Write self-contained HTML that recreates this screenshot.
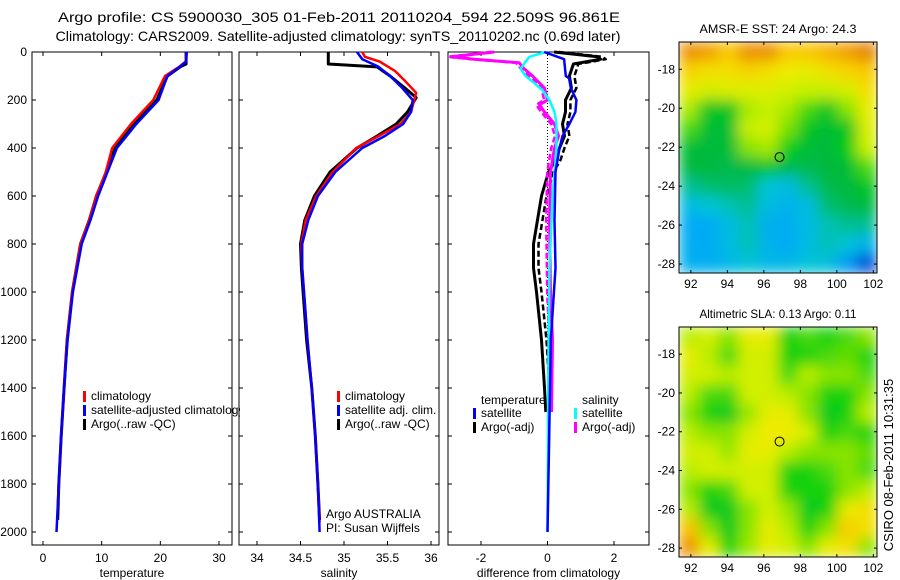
<!DOCTYPE html>
<html><head><meta charset="utf-8"><style>
body{margin:0;background:#fff}
svg{display:block;font-family:"Liberation Sans",sans-serif;font-size:12px}
</style></head><body>
<svg id="fig" width="900" height="580" viewBox="0 0 900 580">
<defs>
<filter id="sm" x="0" y="0" width="1" height="1"><feGaussianBlur stdDeviation="7" edgeMode="duplicate"/></filter>
<clipPath id="c1"><rect x="679" y="42" width="198" height="231"/></clipPath>
<clipPath id="c2"><rect x="679" y="327" width="198" height="230"/></clipPath>
</defs>
<text x="339" y="22" text-anchor="middle" font-size="14" textLength="562" lengthAdjust="spacingAndGlyphs">Argo profile: CS 5900030_305 01-Feb-2011 20110204_594 22.509S 96.861E</text>
<text x="338" y="41" text-anchor="middle" font-size="14" textLength="565" lengthAdjust="spacingAndGlyphs">Climatology: CARS2009. Satellite-adjusted climatology: synTS_20110202.nc (0.69d later)</text>
<g id="plots"></g>
<text transform="translate(893,465) rotate(-90)" text-anchor="middle" font-size="13">CSIRO 08-Feb-2011 10:31:35</text>
</svg>
<script>
// ---- profile data ----
const depthTicks=[0,200,400,600,800,1000,1200,1400,1600,1800,2000];
const tempTicks=[0,10,20,30];
const salTicks=[34,34.5,35,35.5,36];
const diffTicks=[-2,0,2];
const tempArgoD=[0,50,60,100,200,300,400,500,600,700,800,1000,1200,1400,1600,1800,1950];
const tempArgoV=[24.4,24.4,23.5,21.2,19.4,15.6,12.3,10.8,9.1,7.9,6.4,5.0,4.1,3.6,3.1,2.7,2.5];
const tempClimD=[0,40,60,100,200,300,400,500,600,700,800,1000,1200,1400,1600,1800,1870];
const tempClimV=[24.5,24.3,23.3,20.8,18.8,15.0,11.8,10.7,9.1,7.9,6.4,5.0,4.1,3.6,3.1,2.7,2.6];
const tempSatD=[0,40,60,100,200,300,400,500,600,700,800,1000,1200,1400,1600,1800,2000];
const tempSatV=[24.5,24.4,23.4,21.2,19.7,15.9,12.6,11.0,9.4,8.1,6.6,5.1,4.2,3.6,3.1,2.7,2.3];
const salArgoD=[0,50,62,100,150,190,250,300,350,400,500,600,700,800,900,1000,1200,1400,1600,1800,1950];
const salArgoV=[34.82,34.82,35.38,35.53,35.7,35.83,35.73,35.6,35.38,35.15,34.84,34.66,34.55,34.5,34.51,34.53,34.57,34.63,34.67,34.7,34.72];
const salClimD=[0,20,40,80,120,170,250,300,350,400,500,600,700,800,900,1000,1200,1400,1600,1800,1960];
const salClimV=[35.21,35.24,35.41,35.59,35.7,35.83,35.77,35.65,35.4,35.14,34.87,34.68,34.56,34.51,34.52,34.54,34.58,34.63,34.67,34.7,34.72];
const salSatD=[0,30,60,100,150,200,250,300,350,400,500,600,700,800,900,1000,1200,1400,1600,1800,2000];
const salSatV=[35.15,35.21,35.39,35.53,35.67,35.79,35.77,35.68,35.47,35.21,34.9,34.7,34.59,34.52,34.52,34.54,34.58,34.63,34.67,34.7,34.72];
// ---- difference data ----
const dTSatD=[0,30,100,110,150,200,250,300,350,400,500,700,900,1200,1600,2000];
const dTSatV=[-0.1,0.5,0.55,0.65,0.7,0.87,0.84,0.66,0.45,0.36,0.24,0.21,0.24,0.1,0.05,0.0];
const dTArgoD=[0,20,30,50,100,150,200,250,300,350,400,450,500,600,700,800,900,1000,1200,1400,1500];
const dTArgoV=[0.2,1.5,1.6,0.78,0.66,0.72,0.54,0.54,0.45,0.51,0.36,0.24,0.03,-0.18,-0.3,-0.42,-0.42,-0.33,-0.18,-0.09,-0.05];
const dSSatD=[0,20,40,70,100,130,160,200,250,300,400,500,600,700,900,1200,2000];
const dSSatV=[-0.06,-0.54,-0.66,-0.81,-0.66,-0.39,-0.15,0.06,0.21,0.27,0.27,0.21,0.15,0.12,0.06,0.03,0.0];
const dSArgoD=[0,20,30,45,70,100,150,200,220,250,300,350,400,500,700,1000,1200,1500];
const dSArgoV=[-1.6,-2.9,-2.2,-0.85,-0.7,-0.45,-0.09,0.0,-0.24,-0.09,0.21,0.33,0.21,0.09,0.06,0.09,0.15,0.12];
// ---- map data ----
const lonTicks=[92,94,96,98,100,102];
const latTicks=[-18,-20,-22,-24,-26,-28];
const sstGrid=[
[.8,.78,.72,.8,.8,.72,.72,.75,.78,.82],
[.7,.68,.68,.7,.68,.66,.65,.68,.7,.72],
[.65,.63,.64,.64,.64,.63,.62,.62,.63,.68],
[.6,.5,.5,.6,.62,.6,.55,.5,.58,.65],
[.55,.48,.48,.62,.63,.57,.5,.48,.5,.64],
[.48,.47,.48,.58,.6,.52,.48,.47,.52,.62],
[.47,.47,.46,.47,.5,.46,.46,.47,.48,.55],
[.42,.44,.45,.44,.38,.36,.42,.46,.47,.5],
[.36,.38,.4,.42,.36,.34,.36,.44,.46,.47],
[.32,.32,.36,.4,.33,.33,.36,.4,.42,.42],
[.33,.32,.36,.4,.34,.32,.36,.4,.38,.34],
[.33,.33,.35,.38,.35,.35,.38,.37,.3,.2]];
const slaGrid=[
[.61,.63,.58,.65,.65,.53,.55,.53,.55,.58],
[.65,.61,.55,.63,.63,.53,.53,.55,.56,.53],
[.63,.63,.61,.63,.63,.55,.61,.58,.58,.55],
[.61,.55,.55,.63,.63,.61,.58,.53,.53,.58],
[.58,.53,.51,.59,.65,.65,.58,.51,.53,.61],
[.61,.58,.58,.63,.66,.66,.63,.53,.55,.53],
[.63,.63,.59,.65,.65,.61,.58,.58,.58,.56],
[.61,.63,.63,.63,.63,.53,.53,.55,.58,.55],
[.58,.53,.55,.63,.63,.53,.53,.53,.58,.61],
[.61,.51,.51,.58,.63,.59,.51,.53,.65,.68],
[.73,.58,.51,.58,.65,.61,.53,.58,.71,.68],
[.8,.65,.53,.59,.65,.63,.58,.65,.68,.58]];
const argoLon=96.861, argoLat=-22.509;

const NS='http://www.w3.org/2000/svg';
const root=document.getElementById('plots');
function mk(tag,attrs,parent,text){const e=document.createElementNS(NS,tag);for(const k in attrs)e.setAttribute(k,attrs[k]);if(text!==undefined)e.textContent=text;(parent||root).appendChild(e);return e;}
const PT=52,PB=545; const depthY=d=>52+d*0.24;
function lin(d0,d1,p0,p1){return v=>p0+(v-d0)*(p1-p0)/(d1-d0);}
const tX=lin(0,30,43,219), sX=lin(34,36,257,431), dX=lin(-2,2,481,614);

function frame(x0,x1,xTicks,sx,xlabel,name,yLabels){
  const g=mk('g',{});
  
  
  const r=mk('rect',{x:x0,y:PT,width:x1-x0,height:PB-PT,fill:'none',stroke:'#000','stroke-width':1},g);
  
  
  xTicks.forEach(v=>{const x=sx(v);
    mk('line',{x1:x,x2:x,y1:PB,y2:PB-4,stroke:'#000'},g);mk('line',{x1:x,x2:x,y1:PT,y2:PT+4,stroke:'#000'},g);
    const t=mk('text',{x:x,y:PB+17,'text-anchor':'middle'},g,String(v));
    
    });
  depthTicks.forEach(d=>{const y=depthY(d);
    mk('line',{x1:x0,x2:x0+4,y1:y,y2:y,stroke:'#000'},g);mk('line',{x1:x1,x2:x1-4,y1:y,y2:y,stroke:'#000'},g);
    if(yLabels){const t=mk('text',{x:x0-5,y:y+4,'text-anchor':'end'},g,String(d));
      
      }});
  const xl=mk('text',{x:(x0+x1)/2,y:PB+32,'text-anchor':'middle'},g,xlabel);
  
  
  return g;
}
function line(g,D,V,sx,color,w,name,dash){
  const pts=D.map((d,i)=>sx(V[i]).toFixed(1)+','+depthY(d).toFixed(1)).join(' ');
  const p=mk('polyline',{points:pts,fill:'none',stroke:color,'stroke-width':w,'stroke-linejoin':'round'},g);
  if(dash)p.setAttribute('stroke-dasharray',dash);
  
  
}
function legend(g,x,y,color,label){
  mk('rect',{x:x,y:y-9,width:3,height:11,fill:color},g);
  const t=mk('text',{x:x+8,y:y},g,label);
  
  
}
// Panel 1
const g1=frame(32,232,tempTicks,tX,'temperature','temperature-panel',true);
line(g1,tempArgoD,tempArgoV,tX,'#000',3,'temp-argo-line');
line(g1,tempClimD,tempClimV,tX,'#f00',2.5,'temp-climatology-line');
line(g1,tempSatD,tempSatV,tX,'#00f',2.5,'temp-satellite-line');
const lg1=mk('svg',{x:80,y:380,width:160,height:60,overflow:'hidden'},g1);
legend(lg1,3,20,'#f00','climatology');legend(lg1,3,34,'#00f','satellite-adjusted climatology');legend(lg1,3,48,'#000','Argo(..raw -QC)');
// Panel 2
const g2=frame(239,439,salTicks,sX,'salinity','salinity-panel',false);
line(g2,salArgoD,salArgoV,sX,'#000',3,'sal-argo-line');
line(g2,salClimD,salClimV,sX,'#f00',2.5,'sal-climatology-line');
line(g2,salSatD,salSatV,sX,'#00f',2.5,'sal-satellite-line');
legend(g2,337,400,'#f00','climatology');legend(g2,337,414,'#00f','satellite adj. clim.');legend(g2,337,428,'#000','Argo(..raw -QC)');
const a1=mk('text',{x:326,y:518},g2,'Argo AUSTRALIA');
const a2=mk('text',{x:326,y:532},g2,'PI: Susan Wijffels');
// Panel 3
const g3=frame(448,649,diffTicks,dX,'difference from climatology','difference-panel',false);
mk('line',{x1:dX(0),x2:dX(0),y1:PT,y2:depthY(2000),stroke:'#000','stroke-dasharray':'1,2'},g3);
line(g3,dTArgoD,dTArgoV,dX,'#000',3,'diff-temp-argo-line');
line(g3,dTArgoD,dTArgoV.map(v=>v+0.15),dX,'#000',2.5,'diff-temp-argo-adj-line','6,3');
line(g3,dSArgoD,dSArgoV,dX,'#f0f',3,'diff-sal-argo-line');
line(g3,dSArgoD,dSArgoV.map(v=>v-0.1),dX,'#f0f',2.5,'diff-sal-argo-adj-line','6,3');
line(g3,dSSatD,dSSatV,dX,'#0ff',2.5,'diff-sal-satellite-line');
line(g3,dTSatD,dTSatV,dX,'#00f',2.5,'diff-temp-satellite-line');
const lt=mk('text',{x:481,y:404},g3,'temperature');
const ls=mk('text',{x:582,y:404},g3,'salinity');
legend(g3,473,417,'#00f','satellite');legend(g3,473,431,'#000','Argo(-adj)');
legend(g3,574,417,'#0ff','satellite');legend(g3,574,431,'#f0f','Argo(-adj)');

// Maps
const cmapStops=[[0.15,[0,40,180]],[0.22,[0,90,230]],[0.32,[0,170,245]],[0.38,[0,195,215]],[0.43,[0,190,130]],[0.47,[0,185,60]],[0.52,[0,205,20]],[0.57,[120,225,0]],[0.62,[200,240,0]],[0.66,[240,235,0]],[0.72,[250,200,0]],[0.79,[240,150,0]],[0.86,[210,100,0]]];
function cmap(v){
  if(v<=cmapStops[0][0])return 'rgb('+cmapStops[0][1].join(',')+')';
  for(let i=1;i<cmapStops.length;i++){if(v<=cmapStops[i][0]){const [a,ca]=cmapStops[i-1],[b,cb]=cmapStops[i];const t=(v-a)/(b-a);
    return 'rgb('+ca.map((c,k)=>Math.round(c+(cb[k]-c)*t)).join(',')+')';}}
  return 'rgb('+cmapStops[cmapStops.length-1][1].join(',')+')';
}
function map(x0,y0,w,h,grid,title,name,clip){
  const g=mk('g',{});
  
  
  const lonX=lin(91.35,102.2,x0,x0+w), latY=lin(-16.6,-28.46,y0,y0+h);
  const cg=mk('g',{'clip-path':'url(#'+clip+')'},g);
  const img=mk('g',{filter:'url(#sm)'},cg);
  const rows=grid.length, cols=grid[0].length, cw=w/cols, ch=h/rows;
  grid.forEach((row,i)=>row.forEach((v,j)=>{
    const c=mk('rect',{x:x0+j*cw,y:y0+i*ch,width:cw+0.5,height:ch+0.5,fill:cmap(v)},img);
    
    
  }));
  mk('rect',{x:x0,y:y0,width:w,height:h,fill:'none',stroke:'#000'},g);
  lonTicks.forEach(v=>{const x=lonX(v);
    mk('line',{x1:x,x2:x,y1:y0,y2:y0+3,stroke:'#000'},g);mk('line',{x1:x,x2:x,y1:y0+h,y2:y0+h-3,stroke:'#000'},g);
    const t=mk('text',{x:x,y:y0+h+15,'text-anchor':'middle'},g,String(v));
    
    });
  latTicks.forEach(v=>{const y=latY(v);
    mk('line',{x1:x0,x2:x0+3,y1:y,y2:y,stroke:'#000'},g);mk('line',{x1:x0+w,x2:x0+w-3,y1:y,y2:y,stroke:'#000'},g);
    const t=mk('text',{x:x0-4,y:y+4,'text-anchor':'end'},g,String(v));
    
    });
  const c=mk('circle',{cx:lonX(argoLon),cy:latY(argoLat),r:4.5,fill:'none',stroke:'#000'},g);
  
  
  const t=mk('text',{x:x0+w/2,y:y0-9,'text-anchor':'middle',textLength:157,lengthAdjust:'spacingAndGlyphs'},g,title);
  
  
}
map(679,42,198,231,sstGrid,'AMSR-E SST: 24 Argo: 24.3','sst-map','c1');
map(679,327,198,230,slaGrid,'Altimetric SLA: 0.13 Argo: 0.11','sla-map','c2');
</script>
</body></html>
